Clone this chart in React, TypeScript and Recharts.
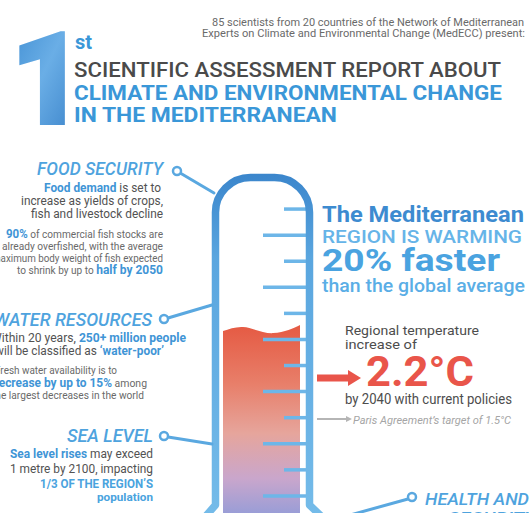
import React from 'react';
import { BarChart, Bar, XAxis, YAxis } from 'recharts';

// ---- data ----
const CATEGORIES = ['Mediterranean region'];
const MERCURY_LEVEL = [7.55]; // thermometer scale units
const SCALE_TICKS = [1, 2, 3, 4, 5, 6, 7, 8, 9, 10, 11, 12];
const SCALE_DOMAIN: [number, number] = [0, 13];

const chartData = CATEGORIES.map((name, i) => ({ name, level: MERCURY_LEVEL[i] }));

const FONT = "Roboto, 'DejaVu Sans', sans-serif";
const INNER_RIGHT = 306;
const TICK_BLUE = '#6db6e8';

const GRAY = '#525252';
const LIGHT = '#6a6a6a';
const BLUE = '#3f95d6';
const HEAD = '#4ea3de';

const MercuryShape = (props: any) => {
  const { x, y, width: w, height: h } = props;
  if (h <= 0) return null;
  const d = `M${x},${y + h} L${x},${y + 6} C${x + 0.08 * w},${y + 4} ${x + 0.17 * w},${y + 1.5} ${x + 0.26 * w},${y + 2}
    C${x + 0.38 * w},${y + 2.5} ${x + 0.52 * w},${y + 8.5} ${x + 0.65 * w},${y + 8}
    C${x + 0.8 * w},${y + 7.5} ${x + 0.92 * w},${y + 3} ${x + w},${y} L${x + w},${y + h} Z`;
  return (
    <g>
      <defs>
        <linearGradient id="mercuryGrad" x1="0" y1="0" x2="0" y2="1">
          <stop offset="0%" stopColor="#e55a43" />
          <stop offset="30%" stopColor="#e87f6a" />
          <stop offset="55%" stopColor="#e6a59c" />
          <stop offset="78%" stopColor="#c9a6cc" />
          <stop offset="100%" stopColor="#8e9bd9" />
        </linearGradient>
      </defs>
      <path d={d} fill="url(#mercuryGrad)" />
    </g>
  );
};

const ScaleTick = (props: any) => {
  const { y, payload } = props;
  const long = payload.value % 2 === 1;
  const len = long ? 43 : 22;
  return <line x1={INNER_RIGHT - len} x2={INNER_RIGHT} y1={y} y2={y} stroke={TICK_BLUE} strokeWidth={3.5} />;
};

type TProps = {
  x: number; y: number; size: number; anchor?: 'start' | 'end' | 'middle';
  weight?: number | string; italic?: boolean; color?: string; len?: number; stroke?: string; strokeWidth?: number;
  children: React.ReactNode;
};
const T = ({ x, y, size, anchor = 'end', weight = 400, italic, color = GRAY, len, stroke, strokeWidth, children }: TProps) => (
  <text
    x={x}
    y={y}
    fontSize={size}
    fontFamily={FONT}
    fontWeight={weight}
    fontStyle={italic ? 'italic' : 'normal'}
    fill={color}
    stroke={stroke}
    strokeWidth={strokeWidth}
    textAnchor={anchor}
    textLength={len}
    lengthAdjust={len ? 'spacingAndGlyphs' : undefined}
  >
    {children}
  </text>
);

const B = ({ children, size, color = BLUE }: { children: React.ReactNode; size?: number; color?: string }) => (
  <tspan fontWeight={700} fill={color} fontSize={size}>{children}</tspan>
);

export default function App() {
  return (
    <div style={{ position: 'relative', width: 529, height: 513, overflow: 'hidden', background: '#fff' }}>
      <style>{`body{margin:0;}`}</style>
      <div style={{ position: 'absolute', left: 0, top: 0 }}>
        <BarChart width={529} height={530} data={chartData} margin={{ top: 183, right: 222, bottom: 8, left: 217 }}>
          <XAxis dataKey="name" hide />
          <Bar dataKey="level" barSize={77} shape={MercuryShape} isAnimationActive={false} />
          <YAxis
            orientation="right"
            width={1}
            domain={SCALE_DOMAIN}
            ticks={SCALE_TICKS}
            interval={0}
            axisLine={false}
            tickLine={false}
            tick={ScaleTick}
          />
        </BarChart>
      </div>
      <svg width={529} height={513} style={{ position: 'absolute', left: 0, top: 0, pointerEvents: 'none' }}>
        <defs>
          <linearGradient id="tubeGrad" gradientUnits="userSpaceOnUse" x1="0" y1="174" x2="0" y2="513">
            <stop offset="0%" stopColor="#3b86cc" />
            <stop offset="25%" stopColor="#5aa6df" />
            <stop offset="100%" stopColor="#74bbe9" />
          </linearGradient>
          <linearGradient id="oneGrad" x1="0" y1="0" x2="1" y2="1">
            <stop offset="0%" stopColor="#3b8ad0" />
            <stop offset="45%" stopColor="#6aaee6" />
            <stop offset="100%" stopColor="#2f78c2" />
          </linearGradient>
        </defs>

        {/* thermometer tube */}
        <path
          d="M205,517 L215.5,505 L215.5,213 A35,35 0 0 1 250.5,177.5 L274.5,177.5 A35,35 0 0 1 309.5,213 L309.5,505 L322,517"
          fill="none"
          stroke="url(#tubeGrad)"
          strokeWidth={7.5}
          strokeLinejoin="round"
        />

        {/* connectors */}
        <g stroke="#5aa8e0" strokeWidth={3} fill="none" strokeLinecap="round">
          <line x1={181} y1={173.5} x2={214} y2={193} />
          <line x1={168} y1={318} x2={212} y2={305} />
          <line x1={168} y1={437} x2={212} y2={444} />
          <line x1={408} y1={499} x2={343} y2={517} />
        </g>
        <g stroke="#5aa8e0" strokeWidth={2.5} fill="#fff">
          <circle cx={177} cy={171} r={4} />
          <circle cx={164} cy={319} r={4} />
          <circle cx={164} cy={436} r={4} />
          <circle cx={412} cy={497} r={4} />
        </g>

        {/* header */}
        <T x={212} y={25.5} size={10.5} anchor="start" color={LIGHT} len={312}>85 scientists from 20 countries of the Network of Mediterranean</T>
        <T x={202} y={37} size={10.5} anchor="start" color={LIGHT} len={323}>Experts on Climate and Environmental Change (MedECC) present:</T>
        <T x={11} y={123} size={127} anchor="start" weight={900} color="url(#oneGrad)" stroke="url(#oneGrad)" strokeWidth={4}>1</T>
        <T x={75} y={49} size={20} anchor="start" weight={700} color="#3a97d8">st</T>
        <T x={74} y={77} size={19.5} anchor="start" weight={500} color="#4a4a4a" len={427}>SCIENTIFIC ASSESSMENT REPORT ABOUT</T>
        <T x={74} y={100} size={19.5} anchor="start" weight={700} color="#3a97d8" len={428}>CLIMATE AND ENVIRONMENTAL CHANGE</T>
        <T x={74} y={122} size={19.5} anchor="start" weight={700} color="#3a97d8" len={263}>IN THE MEDITERRANEAN</T>

        {/* food security */}
        <T x={163} y={175} size={18.5} italic weight={500} color={HEAD} len={126}>FOOD SECURITY</T>
        <T x={161} y={192} size={12.5} len={117}><B>Food demand</B> is set to</T>
        <T x={163} y={205} size={12.5} len={142}>increase as yields of crops,</T>
        <T x={163} y={218} size={12.5} len={132}>fish and livestock decline</T>
        <T x={163} y={238} size={10.5} color={LIGHT} len={157}><B size={12}>90%</B> of commercial fish stocks are</T>
        <T x={163} y={250} size={10.5} color={LIGHT} len={161}>already overfished, with the average</T>
        <T x={163} y={262} size={10.5} color={LIGHT} len={171}>maximum body weight of fish expected</T>
        <T x={163} y={274} size={10.5} color={LIGHT} len={146}>to shrink by up to <B size={12.5}>half by 2050</B></T>

        {/* water resources */}
        <T x={152} y={326} size={18.5} italic weight={500} color={HEAD} len={158}>WATER RESOURCES</T>
        <T x={186} y={342} size={12} len={195}>Within 20 years, <B>250+ million people</B></T>
        <T x={164} y={355} size={12} len={169}>will be classified as <B>‘water-poor’</B></T>
        <T x={117} y={374} size={10.5} color={LIGHT} len={122}>Fresh water availability is to</T>
        <T x={147} y={387} size={10.5} color={LIGHT} len={155}><B size={12}>decrease by up to 15%</B> among</T>
        <T x={144} y={399} size={10.5} color={LIGHT} len={152}>the largest decreases in the world</T>

        {/* sea level */}
        <T x={153} y={442} size={18.5} italic weight={500} color={HEAD} len={86}>SEA LEVEL</T>
        <T x={153} y={458} size={12.5} len={143}><B>Sea level rises</B> may exceed</T>
        <T x={153} y={473} size={12.5} len={143}>1 metre by 2100, impacting</T>
        <T x={153} y={488} size={13} weight={700} color="#4aa3de" len={113}>1/3 OF THE REGION’S</T>
        <T x={153} y={501} size={11.5} weight={700} color="#4aa3de" len={56}>population</T>

        {/* right side */}
        <T x={322} y={222} size={22} anchor="start" weight={700} color="#3d8bd0" len={202}>The Mediterranean</T>
        <T x={322} y={243} size={19} anchor="start" weight={500} color="#66b4e8" len={200}>REGION IS WARMING</T>
        <T x={322} y={271} size={31} anchor="start" weight={700} color="#4aa3e0" len={178}>20% faster</T>
        <T x={322} y={292} size={18.5} anchor="start" weight={500} color="#5aaee6" len={203}>than the global average</T>

        <T x={345} y={335} size={13.5} anchor="start" color="#4d4d4d" len={134}>Regional temperature</T>
        <T x={345} y={349} size={13.5} anchor="start" color="#4d4d4d" len={72}>increase of</T>
        <T x={366} y={386} size={42} anchor="start" weight={700} color="#e9554a" len={108}>2.2°C</T>
        <T x={345} y={404} size={14} anchor="start" color="#4d4d4d" len={167}>by 2040 with current policies</T>
        <T x={353} y={424} size={11} anchor="start" italic color="#a5a5a5" len={158}>Paris Agreement’s target of 1.5°C</T>

        {/* arrows */}
        <line x1={317} y1={378} x2={350} y2={378} stroke="#e9554a" strokeWidth={7} />
        <polygon points="348,370 361,378 348,386" fill="#e9554a" />
        <line x1={317} y1={419} x2={347} y2={419} stroke="#b5b5b5" strokeWidth={2} />
        <polygon points="346,416 352,419 346,422" fill="#b5b5b5" />

        <T x={425} y={505} size={17} anchor="start" italic weight={500} color={HEAD} len={104}>HEALTH AND</T>
        <T x={448} y={524} size={17} anchor="start" italic weight={500} color={HEAD} len={88}>SECURITY</T>
      </svg>
    </div>
  );
}
